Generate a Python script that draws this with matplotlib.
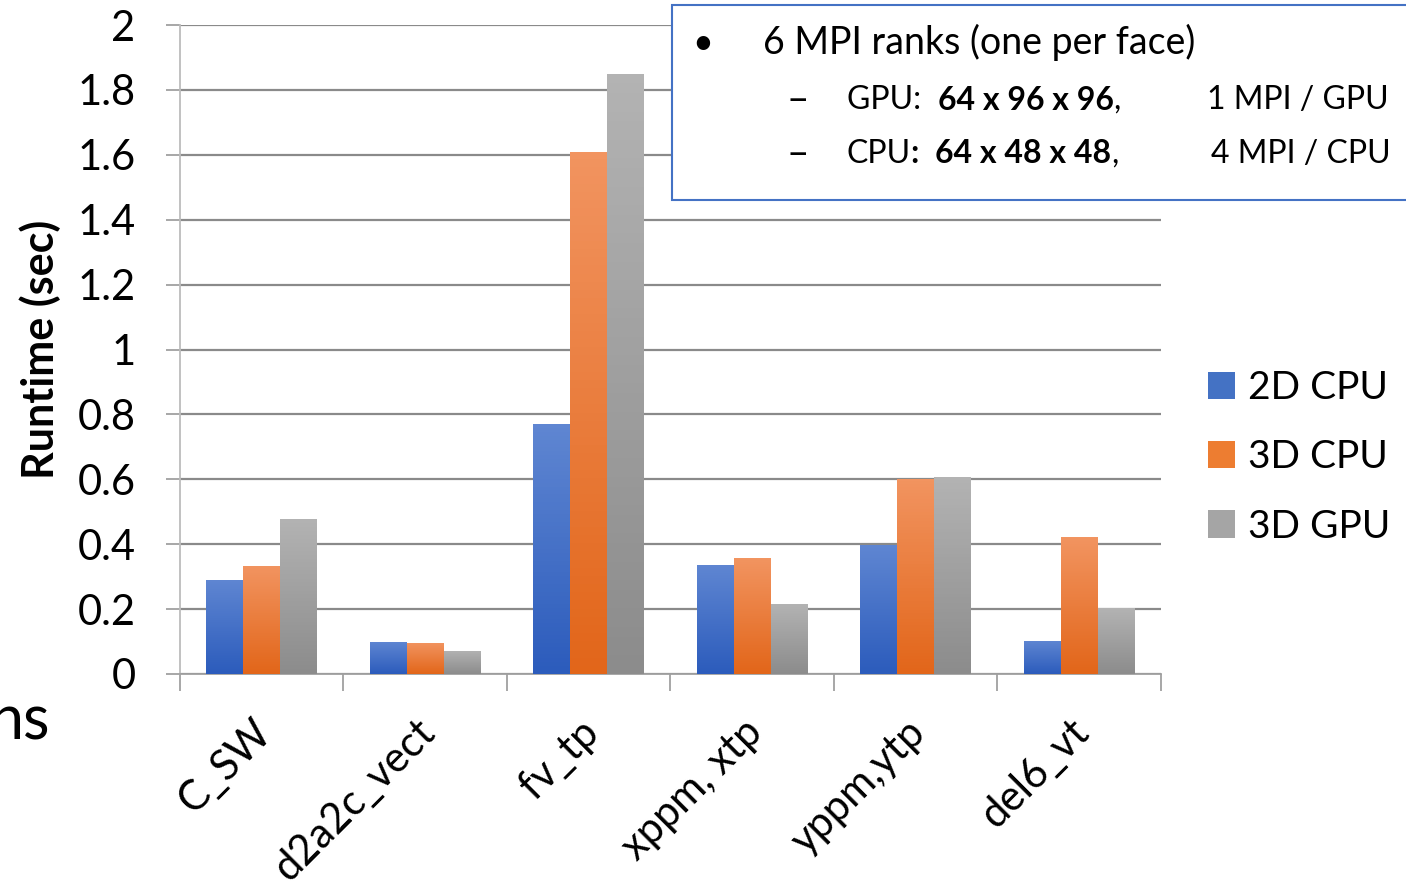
import numpy as np
import matplotlib
matplotlib.use("Agg")
from matplotlib import pyplot as plt
from matplotlib.colors import LinearSegmentedColormap
from matplotlib.patches import Patch, Rectangle
from matplotlib.transforms import ScaledTranslation

plt.rcParams['font.family'] = ['Lato', 'DejaVu Sans']

kernels = ["C_SW", "d2a2c_vect", "fv_tp", "xppm, xtp", "yppm,ytp", "del6_vt"]
series = ["2D CPU", "3D CPU", "3D GPU"]
cpu2d = [0.29, 0.099, 0.77, 0.336, 0.398, 0.102]
cpu3d = [0.333, 0.096, 1.609, 0.357, 0.601, 0.422]
gpu3d = [0.478, 0.071, 1.849, 0.216, 0.607, 0.203]

# (top colour, bottom colour) for the gradient fills
grads = [("#5f86d2", "#2c5cbc"), ("#f29460", "#e2661a"), ("#b3b3b3", "#8c8c8c")]
mids = ["#4472c4", "#ed7d31", "#a5a5a5"]

fig = plt.figure(figsize=(14.06, 8.9), dpi=100)
ax = fig.add_axes([0.128, 0.2427, 0.6977, 0.7292])

x = np.arange(len(kernels))
w = 0.226
for i, vals in enumerate([cpu2d, cpu3d, gpu3d]):
    bars = ax.bar(x + (i - 1) * w, vals, w, color="none", zorder=3)
    cmap = LinearSegmentedColormap.from_list("g%d" % i, [grads[i][1], grads[i][0]])
    for b in bars:
        x0 = b.get_x()
        im = ax.imshow(np.linspace(0, 1, 64).reshape(-1, 1), cmap=cmap, origin="lower",
                       extent=[x0, x0 + b.get_width(), 0, b.get_height()],
                       aspect="auto", zorder=3)
        im.set_clip_path(b)

ax.set_xlim(-0.5, len(kernels) - 0.5)
ax.set_ylim(0, 2)
ax.set_yticks(np.arange(0, 2.01, 0.2))
ax.set_yticklabels(["0", "0.2", "0.4", "0.6", "0.8", "1", "1.2", "1.4", "1.6", "1.8", "2"])
ax.yaxis.grid(True, color="#8a8a8a", linewidth=1.6, zorder=0)
ax.set_axisbelow(True)
ax.tick_params(axis="y", labelsize=30, length=10, width=1.3, color="#a0a0a0", pad=22)

ax.set_xticks(x)
ax.set_xticklabels(kernels, rotation=45, ha="right", va="top", rotation_mode="anchor", fontsize=30)
ax.set_xticks(np.arange(-0.5, len(kernels)), minor=True)
ax.tick_params(axis="x", which="major", length=0, pad=28)
ax.tick_params(axis="x", which="minor", length=12, width=1.3, color="#a0a0a0")
for lab in ax.get_xticklabels():
    lab.set_transform(lab.get_transform() + ScaledTranslation(-0.1, 0, fig.dpi_scale_trans))

for s in ["top", "right"]:
    ax.spines[s].set_visible(False)
ax.spines["left"].set_color("#bcbcbc")
ax.spines["left"].set_linewidth(1.3)
ax.spines["bottom"].set_color("#a0a0a0")
ax.spines["bottom"].set_linewidth(1.3)

ax.set_ylabel("Runtime (sec)", fontsize=31, fontweight="bold", labelpad=12)

handles = [Patch(facecolor=c) for c in mids]
fig.legend(handles, series, loc="center left", bbox_to_anchor=(0.834, 0.486), frameon=False,
           fontsize=28, handlelength=0.7, handleheight=0.7, handletextpad=0.35, labelspacing=0.85)

# text box overlaying the top right of the chart
fig.patches.append(Rectangle((672 / 1406, 1 - 200 / 890), 0.6, 195 / 890, transform=fig.transFigure,
                             facecolor="white", edgecolor="#4472c4", linewidth=1.5, zorder=5))

fig.canvas.draw()
rend = fig.canvas.get_renderer()

def ft(px, py, parts, size):
    # parts: list of (text, bold); drawn one after another starting at pixel px
    for s, bold in parts:
        t = fig.text(px / 1406, 1 - py / 890, s, fontsize=size, fontweight="bold" if bold else "normal",
                     va="center", ha="left", zorder=6)
        px += t.get_window_extent(rend).width

ft(692, 44, [("\u2022", False)], 26)
ft(763, 42, [("6 MPI ranks (one per face)", False)], 27)
ft(786, 100, [("\u2013", False)], 28)
ft(847, 100, [("GPU:  ", False), ("64 x 96 x 96", True), (",", False)], 23)
ft(1207, 100, [("1 MPI / GPU", False)], 23)
ft(786, 154, [("\u2013", False)], 28)
ft(847, 154, [("CPU", False), (":  ", True), ("64 x 48 x 48", True), (",", False)], 23)
ft(1211, 154, [("4 MPI / CPU", False)], 23)

# slide text cut off at the left edge
fig.text(-0.007, 1 - 722 / 890, "ns", fontsize=44, va="center", ha="left")

fig.savefig("out.png", dpi=100)
